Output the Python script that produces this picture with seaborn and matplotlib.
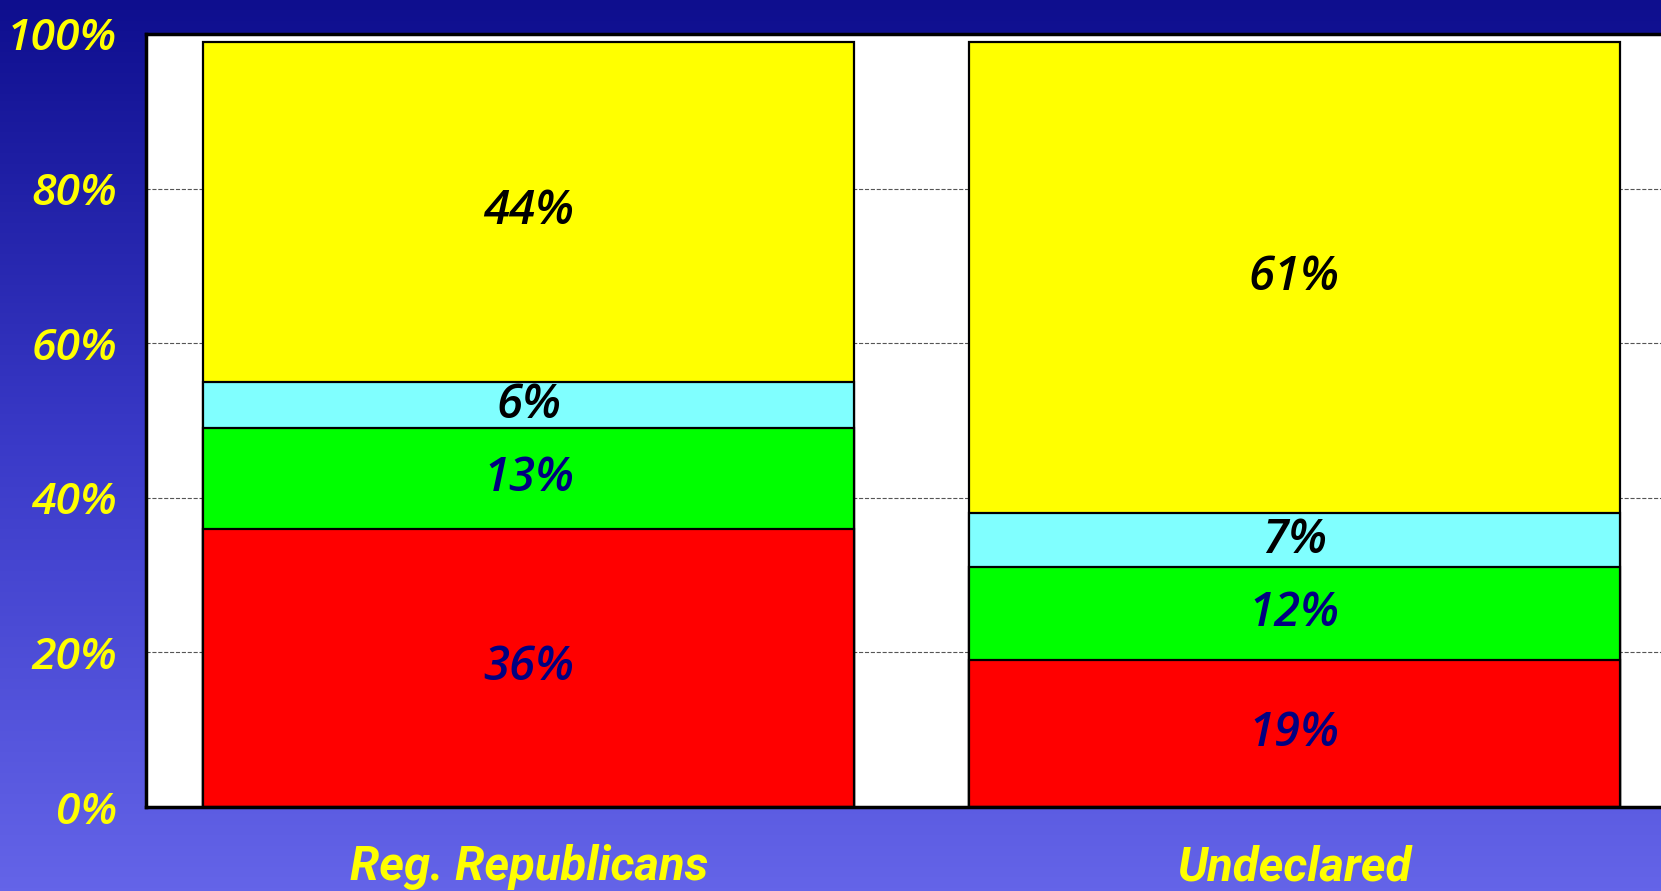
import numpy as np
import pandas as pd
import seaborn as sns
import matplotlib.pyplot as plt
from matplotlib.colors import LinearSegmentedColormap

groups = ['Reg. Republicans', 'Undeclared']
red_vals = [36, 19]
green_vals = [13, 12]
cyan_vals = [6, 7]
yellow_vals = [44, 61]

seg_colors = ['#FF0000', '#00FF00', '#80FFFF', '#FFFF00']
text_colors = ['#000080', '#000080', 'black', 'black']
y_ticks = [0, 20, 40, 60, 80, 100]
y_labels = ['0%', '20%', '40%', '60%', '80%', '100%']

df = pd.DataFrame({'group': groups, 'red': red_vals, 'green': green_vals,
                   'cyan': cyan_vals, 'yellow': yellow_vals})
layers = ['red', 'green', 'cyan', 'yellow']
cum = df[layers].cumsum(axis=1)

sns.set_theme(style='white')
plt.rcParams['font.family'] = ['Open Sans', 'DejaVu Sans']

fig = plt.figure(figsize=(16.61, 8.91), dpi=100)

# gradient background
bg = fig.add_axes([0, 0, 1, 1], zorder=0)
grad = LinearSegmentedColormap.from_list('bg', ['#0e0e8e', '#3a3ac8', '#6464e8'])
bg.imshow(np.linspace(0, 1, 256).reshape(-1, 1), aspect='auto', cmap=grad,
          extent=[0, 1, 0, 1], origin='upper')
bg.axis('off')

ax = fig.add_axes([146 / 1661, 84 / 891, 1 - 146 / 1661, 773 / 891], zorder=1)
ax.set_facecolor('white')

# stacked bars: draw cumulative totals from the top layer down
for i in range(len(layers) - 1, -1, -1):
    plot_df = pd.DataFrame({'group': df['group'], 'val': cum[layers[i]]})
    sns.barplot(data=plot_df, x='group', y='val', color=seg_colors[i],
                saturation=1, width=0.85, edgecolor='black', linewidth=1.6,
                ax=ax, zorder=2)

for j in range(len(groups)):
    for i, layer in enumerate(layers):
        top = cum[layer].iloc[j]
        mid = top - df[layer].iloc[j] / 2
        ax.text(j, mid, f"{df[layer].iloc[j]}%", ha='center', va='center',
                fontsize=34, fontweight='semibold', fontstyle='italic',
                color=text_colors[i], zorder=3)

ax.set_xlim(-0.5, 1.479)
ax.set_ylim(0, 100)
ax.set_yticks(y_ticks)
ax.set_yticklabels(y_labels)
ax.yaxis.grid(True, linestyle='--', color='#555555', linewidth=0.8, zorder=0)
ax.set_axisbelow(True)
ax.tick_params(axis='y', length=0, pad=21, labelsize=32, labelcolor='#FFFF00')
ax.tick_params(axis='x', length=0, pad=27, labelcolor='#FFFF00')
for lab in ax.get_yticklabels():
    lab.set_fontstyle('italic')
    lab.set_fontweight('semibold')
for lab in ax.get_xticklabels():
    lab.set_fontstyle('italic')
    lab.set_fontweight('bold')
    lab.set_fontsize(34)
    lab.set_family(['Roboto', 'DejaVu Sans'])
ax.set_xlabel('')
ax.set_ylabel('')

for side in ['top', 'left', 'bottom']:
    ax.spines[side].set_color('black')
    ax.spines[side].set_linewidth(2.5)
ax.spines['right'].set_visible(False)

fig.savefig('out.png', dpi=100)
